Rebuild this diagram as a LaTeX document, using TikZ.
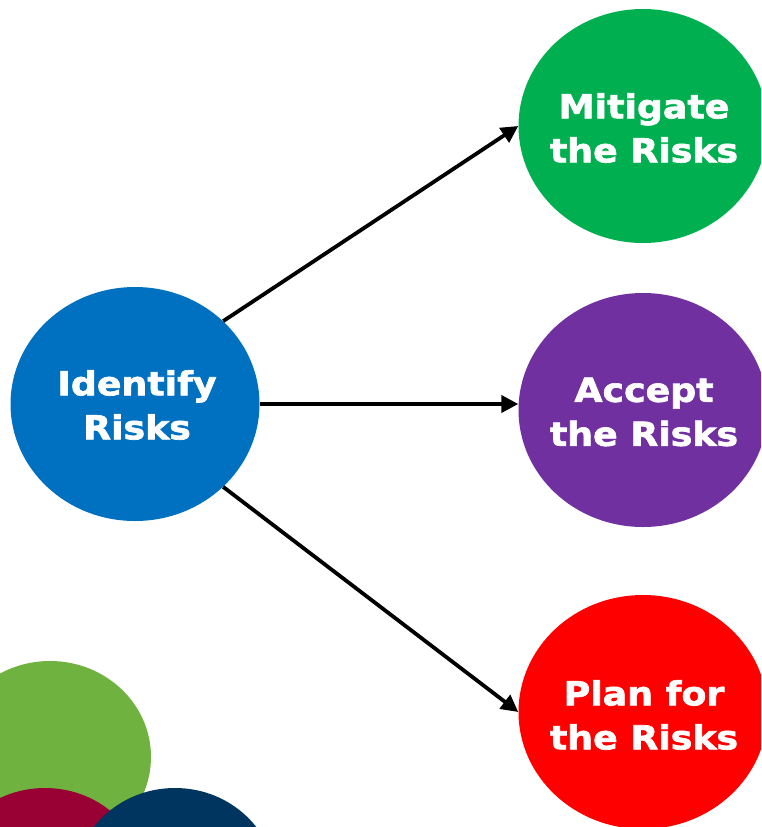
\documentclass[tikz,border=0pt]{standalone}
\usepackage{fontspec}
\newfontfamily\lbl{DejaVu Sans Bold}[FakeStretch=1.1,FakeBold=2]
\usetikzlibrary{shapes.geometric,arrows.meta}
\definecolor{cblue}{HTML}{0070C0}
\definecolor{cgreen}{HTML}{00B050}
\definecolor{cpurple}{HTML}{7030A0}
\definecolor{cred}{HTML}{FF0000}
\definecolor{clgreen}{HTML}{6FB240}
\definecolor{ccrimson}{HTML}{990033}
\definecolor{cnavy}{HTML}{00355F}
\begin{document}
\begin{tikzpicture}[x=1pt,y=-1pt,
  bub/.style={ellipse,draw=none,inner sep=0pt,minimum width=249pt,minimum height=234pt},
  deco/.style={ellipse,draw=none,inner sep=0pt,minimum width=202pt,minimum height=192pt},
  lbl/.style={text=white,align=center,inner sep=0pt,font={\lbl\fontsize{33}{44}\selectfont}},
  arr/.style={line width=3.8pt,-{Triangle[length=17pt,width=17pt]}}]
\useasboundingbox (0,0) rectangle (761,827);
\clip (0,0) rectangle (761,827);
\fill[white] (0,0) rectangle (761,827);
% decorative circles
\node[deco,fill=clgreen] (d1) at (50,757) {};
\node[deco,fill=ccrimson] (d2) at (45,884) {};
\node[deco,fill=cnavy] (d3) at (175,884) {};
% main circles
\node[bub,fill=cblue] (id) at (135,404) {};
\node[bub,fill=cgreen] (mit) at (643,126) {};
\node[bub,fill=cpurple] (acc) at (643,410) {};
\node[bub,fill=cred] (plan) at (643,712) {};
% labels
\node[lbl] (idt) at (137,405) {Identify\\Risks};
\node[lbl] (mitt) at (644,128) {Mitigate\\the Risks};
\node[lbl] (acct) at (644,412) {Accept\\the Risks};
\node[lbl] (plant) at (644,715) {Plan for\\the Risks};
% arrows
\draw[arr] (id.north east) -- (mit.west);
\draw[arr] (id.east) -- (id.east -| acc.west);
\draw[arr] (id.south east) -- (plan.west);
\end{tikzpicture}
\end{document}
